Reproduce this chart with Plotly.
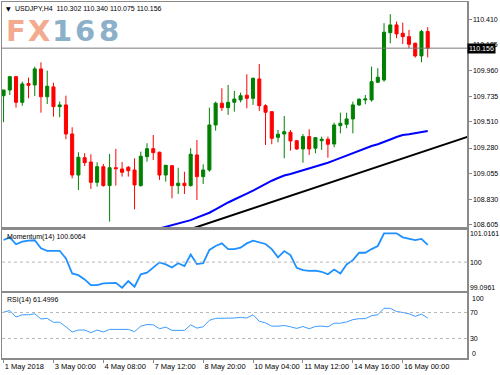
import plotly.graph_objects as go

# ---------------- data ----------------
bar_index = list(range(69))
tick_index = [0, 8, 16, 24, 32, 40, 48, 56, 64]
tick_text = ["1 May 2018", "3 May 00:00", "4 May 08:00", "7 May 12:00", "8 May 20:00",
             "10 May 04:00", "11 May 12:00", "14 May 16:00", "16 May 00:00"]

open_ = [109.739, 109.789, 109.906, 109.681, 109.845, 109.833, 109.974, 109.730, 109.816, 109.643,
         109.658, 109.403, 109.043, 109.195, 109.157, 108.979, 109.116, 108.950, 109.107, 109.096,
         109.111, 109.087, 108.950, 109.204, 109.274, 109.243, 109.043, 109.125, 108.950, 108.971,
         108.950, 109.219, 109.029, 109.087, 109.482, 109.673, 109.634, 109.681, 109.702, 109.743,
         109.716, 109.886, 109.651, 109.599, 109.374, 109.403, 109.418, 109.344, 109.272, 109.380,
         109.278, 109.344, 109.357, 109.315, 109.476, 109.488, 109.535, 109.658, 109.702, 109.702,
         109.857, 109.877, 110.292, 110.360, 110.287, 110.257, 110.199, 110.088, 110.302]
high = [109.789, 109.912, 109.912, 109.862, 109.897, 109.994, 110.032, 109.959, 109.853, 109.687,
        109.739, 109.462, 109.243, 109.234, 109.225, 109.155, 109.140, 109.228, 109.272, 109.157,
        109.122, 109.190, 109.248, 109.322, 109.394, 109.248, 109.129, 109.129, 109.107, 109.072,
        109.278, 109.351, 109.137, 109.634, 109.687, 109.804, 109.833, 109.781, 109.766, 109.927,
        109.897, 110.017, 109.664, 109.599, 109.438, 109.561, 109.438, 109.351, 109.403, 109.444,
        109.374, 109.380, 109.380, 109.502, 109.590, 109.590, 109.687, 109.716, 109.745, 109.994,
        109.980, 110.375, 110.454, 110.389, 110.380, 110.316, 110.204, 110.316, 110.340]
low = [109.506, 109.745, 109.634, 109.651, 109.716, 109.737, 109.590, 109.666, 109.555, 109.550,
       109.357, 109.014, 108.912, 109.122, 108.921, 108.941, 108.941, 108.634, 108.950, 109.029,
       109.029, 108.742, 108.941, 109.160, 109.175, 109.000, 108.985, 108.839, 108.877, 108.877,
       108.941, 108.824, 108.964, 109.072, 109.432, 109.605, 109.570, 109.599, 109.681, 109.629,
       109.658, 109.605, 109.307, 109.313, 109.330, 109.190, 109.257, 109.263, 109.151, 109.219,
       109.234, 109.263, 109.195, 109.286, 109.409, 109.453, 109.409, 109.649, 109.664, 109.687,
       109.853, 109.862, 110.199, 110.243, 110.193, 110.155, 110.073, 110.032, 110.075]
close = [109.789, 109.906, 109.681, 109.842, 109.830, 109.974, 109.730, 109.822, 109.643, 109.658,
         109.403, 109.043, 109.199, 109.151, 108.979, 109.116, 108.950, 109.107, 109.099, 109.067,
         109.081, 108.956, 109.208, 109.274, 109.239, 109.043, 109.129, 108.950, 108.971, 108.950,
         109.225, 109.029, 109.087, 109.482, 109.673, 109.634, 109.681, 109.710, 109.739, 109.716,
         109.892, 109.651, 109.594, 109.365, 109.401, 109.423, 109.342, 109.272, 109.380, 109.272,
         109.371, 109.357, 109.313, 109.482, 109.497, 109.535, 109.658, 109.708, 109.710, 109.862,
         109.901, 110.296, 110.360, 110.281, 110.257, 110.190, 110.088, 110.302, 110.156]

ma_index = list(range(25, 69))
ma_values = [108.574, 108.588, 108.602, 108.616, 108.629, 108.647, 108.669, 108.690, 108.712, 108.741,
             108.773, 108.802, 108.828, 108.857, 108.879, 108.907, 108.938, 108.964, 108.993, 109.017,
             109.039, 109.052, 109.068, 109.086, 109.102, 109.118, 109.136, 109.151, 109.171, 109.193,
             109.215, 109.236, 109.258, 109.280, 109.298, 109.313, 109.331, 109.355, 109.377, 109.394,
             109.401, 109.410, 109.419, 109.430]

trend_index = [30, 75]
trend_values = [108.569, 109.389]

last_price = 110.156

momentum = [100.78, 100.875, 100.63, 100.72, 100.76, 100.77, 100.49, 100.40, 100.40, 100.40,
            100.13, 99.60, 99.54, 99.39, 99.19, 99.19, 99.25, 99.27, 99.27, 99.0961,
            99.33, 99.13, 99.57, 99.63, 99.81, 99.99, 99.92, 99.81, 99.96, 99.86,
            100.27, 99.93, 99.96, 100.43, 100.57, 100.66, 100.46, 100.46, 100.51, 100.66,
            100.76, 100.70, 100.64, 100.46, 100.17, 100.39, 100.25, 99.80, 99.72, 99.69,
            99.70, 99.66, 99.57, 99.74, 99.60, 99.92, 100.07, 100.33, 100.33, 100.46,
            100.57, 101.0161, 101.0161, 101.0161, 100.875, 100.83, 100.78, 100.82, 100.6064]

rsi = [70.5, 73, 63, 66.5, 66.5, 68, 60, 61, 55, 55,
       48, 40, 43, 43, 39, 43, 40, 44, 44, 43.5,
       44, 40.5, 49, 51.5, 51, 45, 47.5, 42.5, 42.5, 42.5,
       51, 46, 48, 58, 61, 61, 61.5, 61.5, 62.5, 61.5,
       66.5, 56.5, 54, 49, 49, 50, 48, 45.5, 48.5, 45,
       48.5, 49, 48, 53.5, 53.5, 55.5, 59, 60.5, 60.5, 65,
       66.5, 76.5, 76.5, 71.5, 70, 68, 64, 67.5, 61.4996]

main_ticks = [110.410, 110.185, 109.960, 109.735, 109.510, 109.280, 109.055, 108.830, 108.605]
mom_ticks = [101.0161, 100, 99.0961]
mom_tick_text = ["101.0161", "100", "99.0961"]
rsi_levels = [70, 30]

# ---------------- figure ----------------
FONT = "Liberation Sans"
BORDER = "#8a8a8a"
x_range = [-0.25, 74.3]

fig = go.Figure()
fig.add_trace(go.Candlestick(
    x=bar_index, open=open_, high=high, low=low, close=close,
    increasing=dict(line=dict(color="#008000", width=1), fillcolor="#008000"),
    decreasing=dict(line=dict(color="#FF0000", width=1), fillcolor="#FF0000"),
    whiskerwidth=0, hoverinfo="skip", xaxis="x", yaxis="y"))
fig.add_trace(go.Scatter(x=ma_index, y=ma_values, mode="lines",
                         line=dict(color="#0000FF", width=2), xaxis="x", yaxis="y"))
fig.add_trace(go.Scatter(x=trend_index, y=trend_values, mode="lines",
                         line=dict(color="#000000", width=2), xaxis="x", yaxis="y"))
fig.add_trace(go.Scatter(x=bar_index, y=momentum, mode="lines",
                         line=dict(color="#1E90FF", width=1.8), xaxis="x2", yaxis="y2"))
fig.add_trace(go.Scatter(x=bar_index, y=rsi, mode="lines",
                         line=dict(color="#3d9bff", width=1), xaxis="x3", yaxis="y3"))

axis_common = dict(showline=True, mirror=True, linecolor=BORDER, linewidth=1.5,
                   showgrid=False, zeroline=False, fixedrange=True)
tickfont = dict(family=FONT, size=7, color="#000000")

fig.update_layout(
    width=500, height=375,
    margin=dict(l=2, r=33, t=2, b=17, autoexpand=False),
    paper_bgcolor="white", plot_bgcolor="white",
    showlegend=False, hovermode=False,
    xaxis=dict(domain=[0, 1], range=x_range, anchor="y", showticklabels=False,
               rangeslider=dict(visible=False), **axis_common),
    xaxis2=dict(domain=[0, 1], range=x_range, anchor="y2", showticklabels=False, **axis_common),
    xaxis3=dict(domain=[0, 1], range=x_range, anchor="y3", tickmode="array",
                tickvals=tick_index, ticktext=tick_text, ticks="outside", ticklen=3,
                tickcolor=BORDER, ticklabelposition="outside right", tickangle=0,
                tickfont=dict(family=FONT, size=7.5, color="#000000"), **axis_common),
    yaxis=dict(domain=[0.368, 1], range=[108.587, 110.561], anchor="x", side="right",
               tickmode="array", tickvals=main_ticks, ticktext=[f"{v:.3f}" for v in main_ticks],
               ticks="outside", ticklen=3, tickcolor=BORDER, tickfont=tickfont, **axis_common),
    yaxis2=dict(domain=[0.188, 0.3596], range=[98.978, 101.134], anchor="x2", side="right",
                tickmode="array", tickvals=mom_ticks, ticktext=mom_tick_text,
                ticks="", tickfont=tickfont, **axis_common),
    yaxis3=dict(domain=[0, 0.1826], range=[0, 100], anchor="x3", side="right",
                tickmode="array", tickvals=rsi_levels, ticktext=[str(v) for v in rsi_levels],
                ticks="", tickfont=tickfont, **axis_common),
)

shapes = [
    dict(type="line", xref="paper", x0=0, x1=1, yref="y", y0=last_price, y1=last_price,
         line=dict(color="#7a7a7a", width=1)),
    dict(type="line", xref="paper", x0=0, x1=1, yref="y2", y0=100, y1=100,
         line=dict(color="#b8b8b8", width=1, dash="dot")),
]
for lv in rsi_levels:
    shapes.append(dict(type="line", xref="paper", x0=0, x1=1, yref="y3", y0=lv, y1=lv,
                       line=dict(color="#b8b8b8", width=1, dash="dot")))
fig.update_layout(shapes=shapes)


def px_x(px):
    return (px - 2) / 465.0


def px_y(py):
    return (358 - py) / 356.0


annotations = [
    dict(text="▼", x=px_x(4), y=px_y(8), xref="paper", yref="paper", xanchor="left",
         yanchor="middle", showarrow=False, font=dict(family="DejaVu Sans", size=6, color="#000")),
    dict(text="USDJPY,H4  110.302 110.340 110.075 110.156", x=px_x(13), y=px_y(8),
         xref="paper", yref="paper", xanchor="left", yanchor="middle", showarrow=False,
         font=dict(family=FONT, size=7, color="#000")),
    dict(text="Momentum(14) 100.6064", x=px_x(5), y=px_y(236.5), xref="paper", yref="paper",
         xanchor="left", yanchor="middle", showarrow=False, font=dict(family=FONT, size=7, color="#000")),
    dict(text="RSI(14) 61.4996", x=px_x(5), y=px_y(300), xref="paper", yref="paper",
         xanchor="left", yanchor="middle", showarrow=False, font=dict(family=FONT, size=7, color="#000")),
    dict(text="110.156", x=1, y=last_price, xref="paper", yref="y", xanchor="left",
         yanchor="middle", showarrow=False, bgcolor="#000000", borderpad=1,
         font=dict(family=FONT, size=7, color="#ffffff")),
    dict(text="100", x=1, y=px_y(298), xref="paper", yref="paper", xanchor="left",
         yanchor="middle", xshift=3, showarrow=False, font=dict(family=FONT, size=7, color="#000")),
    dict(text="0", x=1, y=px_y(353.3), xref="paper", yref="paper", xanchor="left",
         yanchor="middle", xshift=3, showarrow=False, font=dict(family=FONT, size=7, color="#000")),
]
logo_chars = [("F", 16, "#F3AA8F"), ("X", 38.5, "#F3AA8F"), ("1", 62.5, "#8CB0C9"),
              ("6", 85, "#8CB0C9"), ("8", 108.5, "#8CB0C9")]
for ch, cx, col in logo_chars:
    annotations.append(dict(text=f"<b>{ch}</b>", x=px_x(cx), y=px_y(31), xref="paper", yref="paper",
                            xanchor="center", yanchor="middle", showarrow=False,
                            font=dict(family="DejaVu Sans", size=29, color=col)))
fig.update_layout(annotations=annotations)

fig.write_html("out.html", config={"displayModeBar": False, "staticPlot": True},
               post_script="document.body.style.margin='0px';document.body.style.padding='0px';")
